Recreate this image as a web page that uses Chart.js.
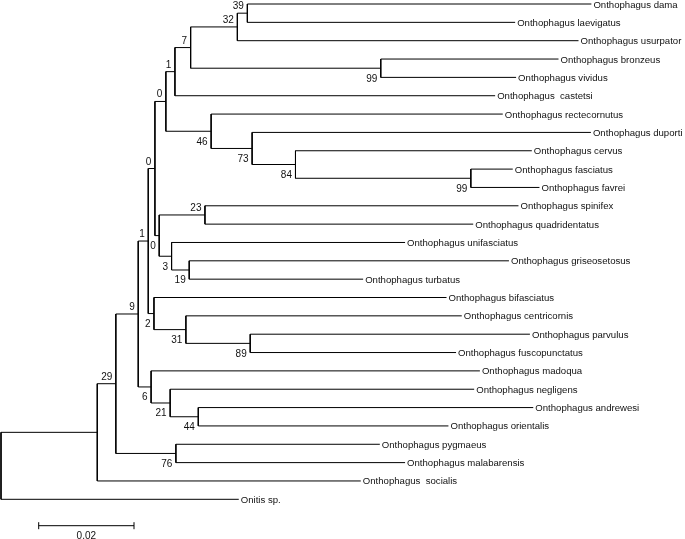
<!DOCTYPE html>
<html>
<head>
<meta charset="utf-8">
<script src="https://cdn.jsdelivr.net/npm/chart.js@4"></script>
<style>
  html, body { margin: 0; padding: 0; background: #fff; }
  #tree { display: block; }
</style>
</head>
<body>
<canvas id="tree" width="685" height="539"></canvas>
<script>
// taxa in drawing order (top to bottom)
var taxa = [
  'Onthophagus dama', 'Onthophagus laevigatus', 'Onthophagus usurpator',
  'Onthophagus bronzeus', 'Onthophagus vividus', 'Onthophagus  castetsi',
  'Onthophagus rectecornutus', 'Onthophagus duporti', 'Onthophagus cervus',
  'Onthophagus fasciatus', 'Onthophagus favrei', 'Onthophagus spinifex',
  'Onthophagus quadridentatus', 'Onthophagus unifasciatus', 'Onthophagus griseosetosus',
  'Onthophagus turbatus', 'Onthophagus bifasciatus', 'Onthophagus centricornis',
  'Onthophagus parvulus', 'Onthophagus fuscopunctatus', 'Onthophagus madoqua',
  'Onthophagus negligens', 'Onthophagus andrewesi', 'Onthophagus orientalis',
  'Onthophagus pygmaeus', 'Onthophagus malabarensis', 'Onthophagus  socialis',
  'Onitis sp.'
];

// distance from root to each tip (substitutions/site)
var tipDepth = [
  0.1239, 0.1079, 0.1212, 0.1170, 0.1081, 0.1037, 0.1053, 0.1238, 0.1114, 0.1074,
  0.1130, 0.1086, 0.0991, 0.0848, 0.1066, 0.0760, 0.0935, 0.0967, 0.1110, 0.0955,
  0.1005, 0.0993, 0.1117, 0.0939, 0.0795, 0.0848, 0.0755, 0.0499
];

// internal nodes: id, depth from root, bootstrap, children (number = tip index)
var nodeIds = ['root', 'A', 'B', 'C', 'D', 'E', 'F', 'G', 'H', 'I', 'J', 'K', 'L', 'M',
  'N', 'O', 'P', 'Q', 'R', 'S', 'T', 'U', 'V', 'W', 'X', 'Y', 'Z'];
var nodeDepth = [0, 0.0202, 0.0241, 0.0288, 0.0309, 0.0323, 0.0346, 0.0365, 0.0398,
  0.0496, 0.0517, 0.0797, 0.0441, 0.0527, 0.0618, 0.0986, 0.0332, 0.0428, 0.0358,
  0.0395, 0.0321, 0.0388, 0.0523, 0.0315, 0.0355, 0.0414, 0.0367];
var nodeSupport = [null, null, 29, 9, 1, 0, 0, 1, 7, 32, 39, 99, 46, 73, 84, 99, 0,
  23, 3, 19, 2, 31, 89, 6, 21, 44, 76];
var nodeKids = [
  ['A', 27], ['B', 26], ['C', 'Z'], ['D', 'W'], ['E', 'T'], ['F', 'P'], ['G', 'L'],
  ['H', 5], ['I', 'K'], ['J', 2], [0, 1], [3, 4], [6, 'M'], [7, 'N'], [8, 'O'],
  [9, 10], ['Q', 'R'], [11, 12], [13, 'S'], [14, 15], [16, 'U'], [17, 'V'], [18, 19],
  [20, 'X'], [21, 'Y'], [22, 23], [24, 25]
];

var scaleBarValue = 0.02;

// ---- layout the tree (rows = tip index + 1) ----
var nodes = [];   // {x, y, support, upper}
var datasets = [];

function place(kid, upper) {
  if (typeof kid === 'number') {
    return { x: tipDepth[kid], y: kid + 1 };
  }
  var i = nodeIds.indexOf(kid);
  var a = place(nodeKids[i][0], true);
  var b = place(nodeKids[i][1], false);
  var x = nodeDepth[i];
  var y = (a.y + b.y) / 2;
  datasets.push({
    data: [{ x: a.x, y: a.y }, { x: x, y: a.y }, { x: x, y: b.y }, { x: b.x, y: b.y }],
    showLine: true,
    borderColor: '#000',
    borderWidth: 1,
    pointRadius: 0,
    tension: 0,
    fill: false,
    clip: false,
  });
  nodes.push({ x: x, y: y, support: nodeSupport[i], upper: upper });
  return { x: x, y: y };
}
place('root', true);

var FONT_TIP = "9.6px 'Liberation Sans', Arial, sans-serif";
var FONT_NUM = "10px 'Liberation Sans', Arial, sans-serif";
var INK = '#111';

var treeLabels = {
  id: 'treeLabels',
  afterDatasetsDraw: function (chart) {
    var ctx = chart.ctx;
    var xs = chart.scales.x;
    var ys = chart.scales.y;
    ctx.save();
    ctx.fillStyle = INK;
    ctx.textBaseline = 'alphabetic';

    // tip names
    ctx.font = FONT_TIP;
    ctx.textAlign = 'left';
    taxa.forEach(function (name, i) {
      ctx.fillText(name, xs.getPixelForValue(tipDepth[i]) + 2, ys.getPixelForValue(i + 1) + 3.5);
    });

    // bootstrap values
    ctx.font = FONT_NUM;
    ctx.textAlign = 'right';
    nodes.forEach(function (n) {
      if (n.support === null) return;
      var px = xs.getPixelForValue(n.x) - 3.5;
      var py = ys.getPixelForValue(n.y) + (n.upper ? -4 : 13.5);
      ctx.fillText(String(n.support), px, py);
    });

    // scale bar
    var x0 = xs.left + 37.7;
    var len = xs.getPixelForValue(scaleBarValue) - xs.getPixelForValue(0);
    var y = 525.7;
    ctx.strokeStyle = '#000';
    ctx.lineWidth = 1;
    ctx.beginPath();
    ctx.moveTo(x0, y); ctx.lineTo(x0 + len, y);
    ctx.moveTo(x0, y - 3.5); ctx.lineTo(x0, y + 3.5);
    ctx.moveTo(x0 + len, y - 3.5); ctx.lineTo(x0 + len, y + 3.5);
    ctx.stroke();
    ctx.textAlign = 'center';
    ctx.fillText(String(scaleBarValue), x0 + len / 2, y + 13.5);
    ctx.restore();
  }
};

new Chart(document.getElementById('tree').getContext('2d'), {
  type: 'scatter',
  data: { datasets: datasets },
  options: {
    responsive: false,
    animation: false,
    devicePixelRatio: 1,
    layout: { padding: { left: 1, right: 16.9, top: 4, bottom: 39.7 } },
    scales: {
      x: { type: 'linear', min: 0, max: 0.14, display: false },
      y: { type: 'linear', min: 1, max: 28, reverse: true, display: false },
    },
    plugins: {
      legend: { display: false },
      tooltip: { enabled: false },
    },
  },
  plugins: [treeLabels],
});
</script>
</body>
</html>
